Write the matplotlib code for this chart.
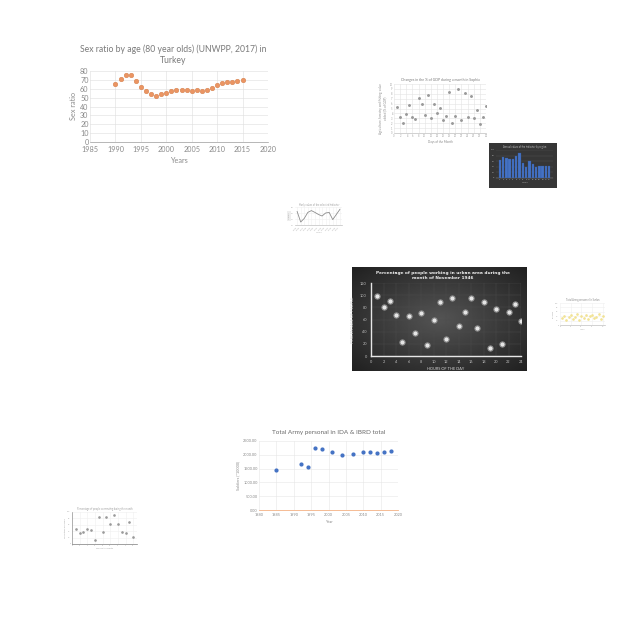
import numpy as np
import matplotlib.pyplot as plt

plt.rcParams['font.family'] = ['Lato', 'DejaVu Sans']

W = H = 640

# --- data -------------------------------------------------------------
sex_years = list(range(1990, 2016))
sex_ratio = [65, 71, 75, 75, 69, 62, 57, 54, 52, 54, 55, 57, 59, 59, 59,
             58, 59, 58, 59, 61, 64, 67, 68, 68, 69, 70]

gdp_days = list(range(1, 31))
gdp_change = [5.4, 3.3, 2.1, 3.8, 5.8, 3.2, 2.9, 7.1, 6.0, 3.6, 7.7, 3.0,
              6.0, 4.0, 5.2, 2.6, 3.4, 8.3, 2.1, 3.4, 9.0, 2.7, 8.1, 3.2,
              7.6, 3.1, 4.7, 1.8, 3.2, 5.5]

bar_labels = [str(i) for i in range(1, 17)]
bar_values = [65, 75, 72, 68, 68, 80, 88, 55, 40, 60, 50, 40, 42, 42, 43, 43]

line_labels = ['2005', '2006', '2007', '2008', '2009', '2010', '2011',
               '2012', '2013', '2014', '2015', '2016', '2017']
line_values = [65, 30, 42, 62, 68, 62, 55, 50, 60, 62, 38, 55, 72]

urban_hours = list(range(1, 25))
urban_pct = [98, 80, 91, 67, 23, 66, 38, 71, 18, 60, 89, 28, 95, 49, 72,
             95, 46, 89, 13, 78, 19, 72, 85, 57]

yellow_x = list(range(1, 21))
yellow_y = [30, 42, 25, 38, 45, 28, 35, 48, 22, 40, 33, 46, 27, 39, 44,
            30, 36, 48, 26, 41]

army_years = [1985, 1992, 1994, 1996, 1998, 2001, 2004, 2007, 2010, 2012,
              2014, 2016, 2018]
army_total = [1450, 1650, 1550, 2230, 2200, 2100, 2000, 2020, 2100, 2110,
              2070, 2100, 2120]

small_x = list(range(1, 17))
small_y = [46, 34, 36, 46, 44, 13, 85, 39, 83, 62, 90, 62, 39, 34, 68, 21]


def box(fig, x0, y0, x1, y1, **kw):
    return fig.add_axes([x0 / W, 1 - y1 / H, (x1 - x0) / W, (y1 - y0) / H], **kw)


def light_style(ax, fs, grid='#e3e3e3', tick='#8c8c8c'):
    for s in ['top', 'right', 'left']:
        ax.spines[s].set_visible(False)
    ax.spines['bottom'].set_color('#bfbfbf')
    ax.spines['bottom'].set_linewidth(0.5)
    ax.tick_params(length=0, labelsize=fs, colors=tick, pad=1)
    ax.grid(True, color=grid, linewidth=0.4)
    ax.set_axisbelow(True)


fig = plt.figure(figsize=(6.4, 6.4), dpi=100)

# --- 1. sex ratio ------------------------------------------------------
ax = box(fig, 90, 71, 268, 142)
ax.scatter(sex_years, sex_ratio, s=11, color='#eb9563', edgecolor='#d07a45',
           linewidth=0.3, zorder=3)
ax.set_xlim(1985, 2020)
ax.set_ylim(0, 80)
ax.set_xticks(range(1985, 2021, 5))
ax.set_yticks(range(0, 81, 10))
light_style(ax, 5.2, grid='#dedede', tick='#8a8a8a')
ax.spines['bottom'].set_color('#9a9a9a')
ax.tick_params(axis='x', pad=3)
ax.set_ylabel('Sex ratio', fontsize=5.2, color='#8a8a8a', labelpad=2)
ax.set_xlabel('Years', fontsize=5.2, color='#8a8a8a', labelpad=3)
fig.text(173 / W, 1 - 55 / H, 'Sex ratio by age (80 year olds) (UNWPP, 2017) in\nTurkey',
         ha='center', va='center', fontsize=6.2, color='#7a7a7a', linespacing=1.25)

# --- 2. GDP scatter ----------------------------------------------------
ax = box(fig, 394, 84, 486, 133)
ax.scatter(gdp_days, gdp_change, s=1.2, color='#9a9a9a', zorder=3)
ax.set_xlim(0, 30)
ax.set_ylim(0, 10)
ax.set_xticks(range(0, 31, 2))
ax.set_yticks(range(0, 11))
light_style(ax, 1.8, tick='#a0a0a0')
ax.set_title('Changes in the % of GDP during a month in Sophia', fontsize=2.5,
             color='#7a7a7a', pad=2)
ax.set_xlabel('Days of the Month', fontsize=2.2, color='#8c8c8c', labelpad=1.5)
ax.set_ylabel('Agriculture, forestry, and fishing, value\nadded (% of GDP)',
              fontsize=2.2, color='#8c8c8c', labelpad=1.5)

# --- 3. dark bar chart -------------------------------------------------
bg = box(fig, 489, 143, 557, 188)
bg.set_facecolor('#363636')
bg.set_xticks([])
bg.set_yticks([])
for s in bg.spines.values():
    s.set_visible(False)
ax = box(fig, 496, 150, 553, 178)
ax.set_facecolor('none')
ax.bar(bar_labels, bar_values, width=0.7, color='#4472C4', edgecolor='#2f5597',
       linewidth=0.2, zorder=3)
ax.set_ylim(0, 100)
for s in ['top', 'right', 'left']:
    ax.spines[s].set_visible(False)
ax.spines['bottom'].set_color('#8c8c8c')
ax.spines['bottom'].set_linewidth(0.3)
ax.tick_params(length=0, labelsize=1.5, colors='#bfbfbf', pad=1)
ax.grid(axis='y', color='#555555', linewidth=0.3)
ax.set_axisbelow(True)
ax.set_title('Annual values of the indicator by region', fontsize=1.8,
             color='#bfbfbf', pad=1.5)
ax.set_xlabel('Years', fontsize=1.6, color='#bfbfbf', labelpad=1)

# --- 4. small line chart -----------------------------------------------
ax = box(fig, 295, 207, 342, 225)
ax.plot(line_labels, line_values, color='#8c8c8c', linewidth=0.6)
ax.set_ylim(20, 80)
light_style(ax, 1.5, grid='#efefef', tick='#a6a6a6')
ax.tick_params(axis='x', rotation=45)
for t in ax.get_xticklabels():
    t.set_ha('right')
ax.set_title('Yearly values of the selected indicator', fontsize=1.8,
             color='#a0a0a0', pad=1)
ax.set_xlabel('Years', fontsize=1.6, color='#a6a6a6', labelpad=1)
ax.set_ylabel('Values', fontsize=1.6, color='#a6a6a6', labelpad=1,
              bbox=dict(facecolor='#eeeeee', edgecolor='none', pad=1))

# --- 5. dark scatter ---------------------------------------------------
bg = box(fig, 352, 267, 527, 371)
gx, gy = np.meshgrid(np.linspace(-1, 1, 200), np.linspace(-1, 1, 120))
glow = 1 - np.clip(np.sqrt(gx ** 2 + gy ** 2) / 1.4, 0, 1)
bg.imshow(glow, cmap='gray', vmin=-0.65, vmax=4.35, aspect='auto',
          extent=(0, 1, 0, 1))
bg.set_xticks([])
bg.set_yticks([])
for s in bg.spines.values():
    s.set_visible(False)
ax = box(fig, 371, 283, 521, 356)
ax.set_facecolor('none')
ax.scatter(urban_hours, urban_pct, s=14, color='#e6e6e6', edgecolor='#8a8a8a',
           linewidth=0.8, zorder=3)
ax.set_xlim(0, 24)
ax.set_ylim(0, 120)
ax.set_xticks(range(0, 25, 2))
ax.set_yticks(range(0, 121, 20))
for s in ['top', 'right']:
    ax.spines[s].set_visible(False)
for s in ['left', 'bottom']:
    ax.spines[s].set_color('#e6e6e6')
    ax.spines[s].set_linewidth(1.0)
ax.tick_params(length=0, labelsize=2.8, colors='#bfbfbf', pad=3)
ax.grid(True, color='#4e4e4e', linewidth=0.3)
ax.set_axisbelow(True)
ax.set_xlabel('HOURS OF THE DAY', fontsize=2.8, color='#d9d9d9', labelpad=2)
ax.set_ylabel('PERCENTAGE OF PEOPLE', fontsize=2.8, color='#d9d9d9', labelpad=4)
fig.text(443 / W, 1 - 275.5 / H,
         'Percentage of people working in urban area during the\nmonth of November 1946',
         ha='center', va='center', fontsize=3.1, color='#f2f2f2', fontweight='bold',
         family='DejaVu Sans', linespacing=1.35)

# --- 6. faint yellow scatter ------------------------------------------
ax = box(fig, 560, 303, 605, 325)
ax.scatter(yellow_x, yellow_y, s=0.8, color='#f2e394', zorder=3)
ax.set_xlim(0, 21)
ax.set_ylim(0, 100)
light_style(ax, 1.4, grid='#f0f0f0', tick='#a6a6a6')
ax.set_title('Total Army personnel in Sudan', fontsize=1.8, color='#8c8c8c', pad=1.5)
ax.set_xlabel('Years', fontsize=1.4, color='#a6a6a6', labelpad=1)
ax.set_ylabel('Personnel', fontsize=1.4, color='#a6a6a6', labelpad=1)

# --- 7. army personal --------------------------------------------------
ax = box(fig, 259, 441, 398, 510)
ax.scatter(army_years, army_total, s=4, color='#4472C4', zorder=3)
ax.set_xlim(1980, 2020)
ax.set_ylim(0, 2500)
ax.set_xticks(range(1980, 2021, 5))
ax.set_yticks(range(0, 2501, 500))
ax.set_yticklabels([f'{v:.2f}' for v in range(0, 2501, 500)])
light_style(ax, 2.8, grid='#e6e6e6', tick='#8a8a8a')
ax.spines['bottom'].set_color('#f4b183')
ax.spines['bottom'].set_linewidth(0.6)
ax.tick_params(axis='x', pad=2)
ax.set_title('Total Army personal in IDA & IBRD total', fontsize=4.6,
             color='#6a6a6a', pad=5)
ax.set_xlabel('Year', fontsize=2.8, color='#8a8a8a', labelpad=2)
ax.set_ylabel('Soldiers (*10000)', fontsize=2.8, color='#8a8a8a', labelpad=2)

# --- 8. bottom-left small scatter ---------------------------------------
ax = box(fig, 72, 512, 137, 544)
ax.scatter(small_x, small_y, s=0.8, color='#9a9a9a', zorder=3)
ax.set_xlim(0, 17)
ax.set_ylim(0, 100)
light_style(ax, 1.4, grid='#efefef', tick='#a6a6a6')
ax.spines['left'].set_visible(True)
ax.spines['left'].set_color('#7a7a7a')
ax.spines['left'].set_linewidth(0.4)
ax.spines['bottom'].set_color('#7a7a7a')
ax.set_title('Percentage of people commuting during the month', fontsize=1.8,
             color='#a0a0a0', pad=1.5)
ax.set_xlabel('Days of the month', fontsize=1.5, color='#a6a6a6', labelpad=1)
ax.set_ylabel('Percentage of people', fontsize=1.5, color='#a6a6a6', labelpad=1)

fig.savefig('out.png', dpi=100, facecolor='white')
